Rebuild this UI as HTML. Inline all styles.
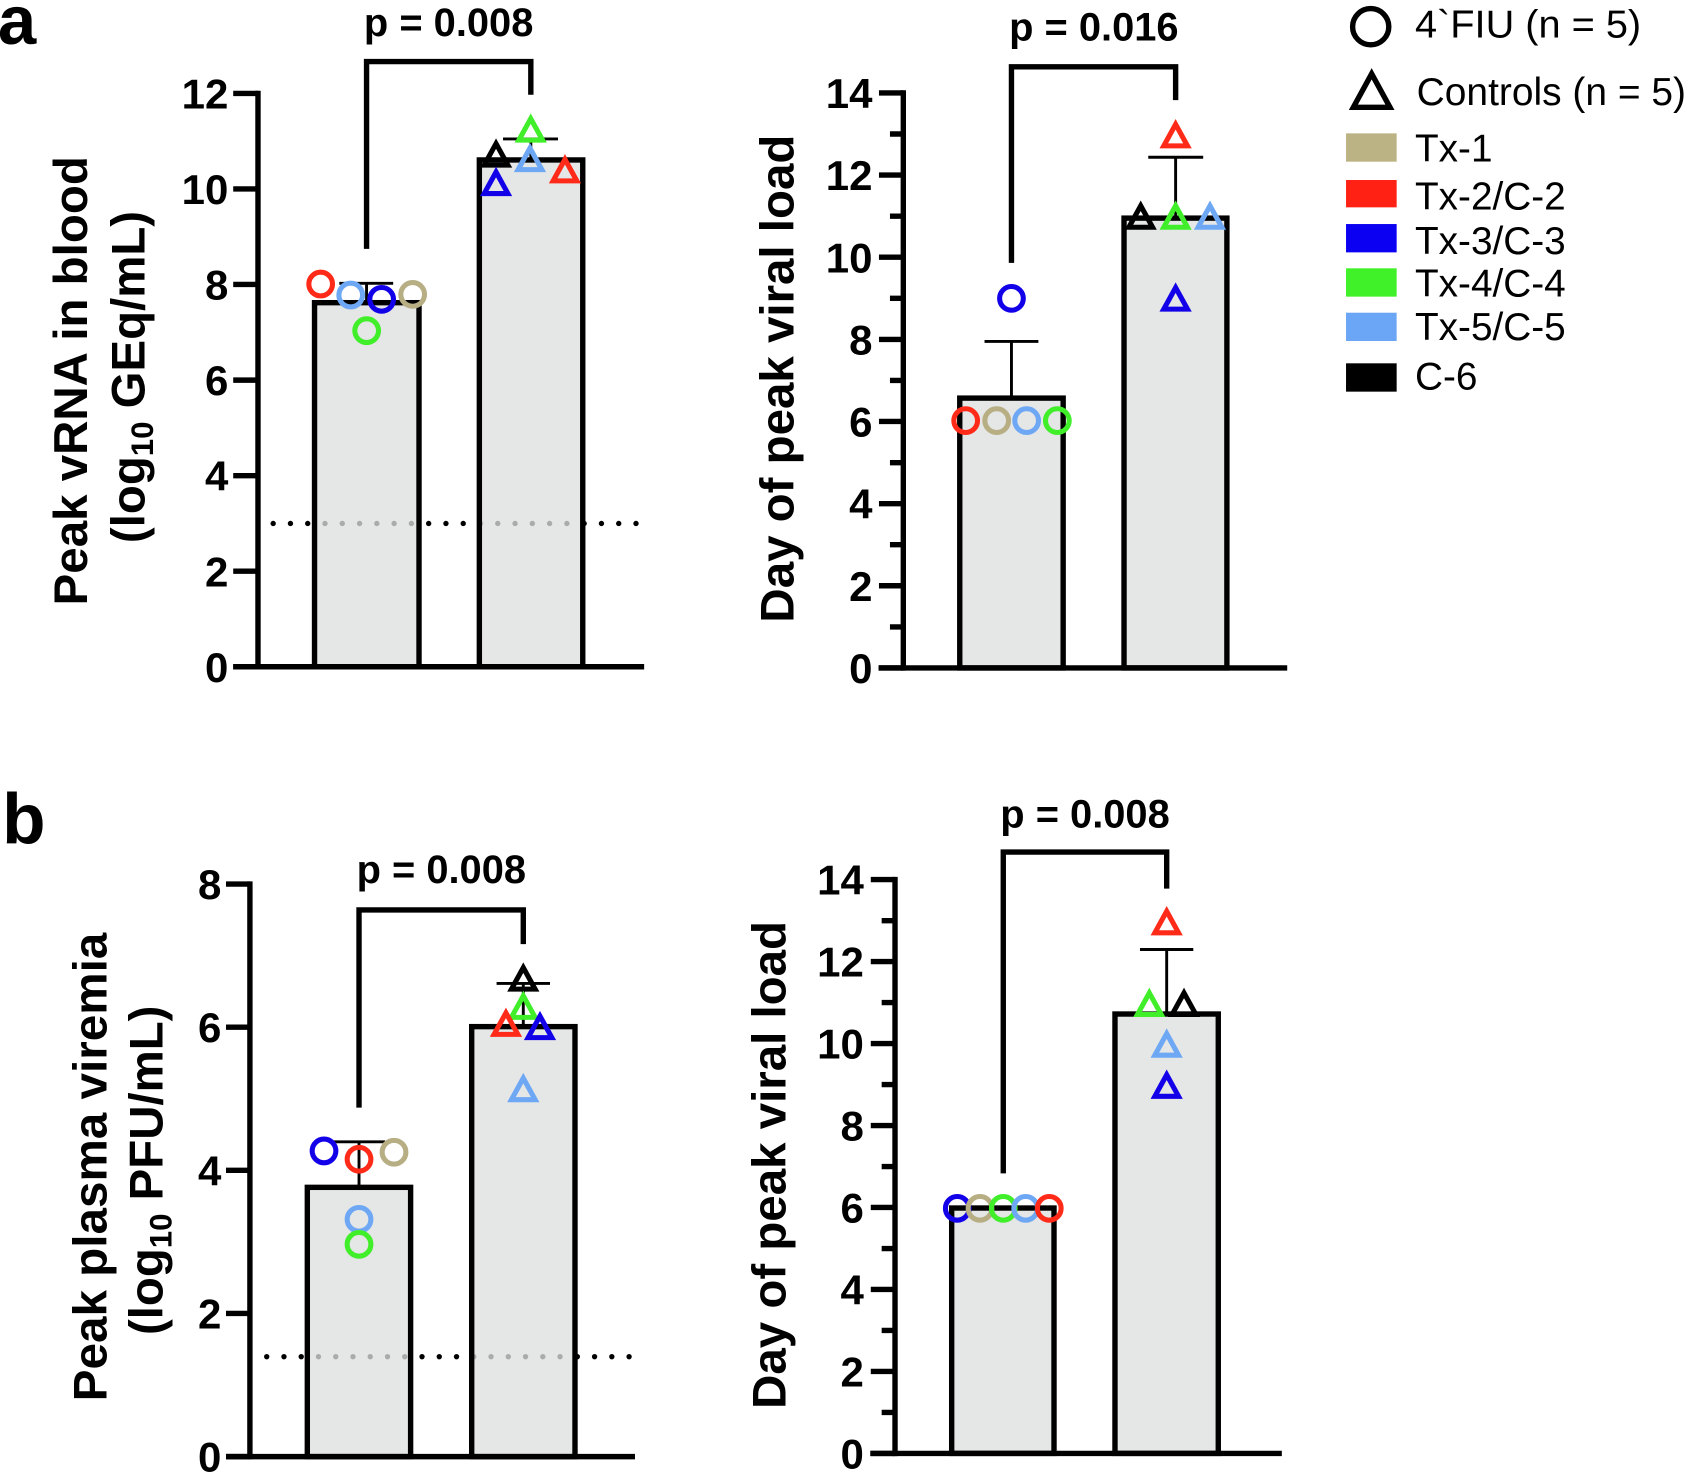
<!DOCTYPE html>
<html>
<head>
<meta charset="utf-8">
<style>
html,body{margin:0;padding:0;background:#fff;}
svg{display:block;}
text{font-family:"Liberation Sans",Arial,sans-serif;}
.b{font-weight:bold;}
</style>
</head>
<body>
<svg width="1689" height="1473" viewBox="0 0 1568 1367.5" preserveAspectRatio="none" xmlns="http://www.w3.org/2000/svg">
<rect x="0" y="0" width="1568" height="1367.5" fill="#fff"/>

<!-- Panel letters -->
<text x="-2" y="41" class="b" font-size="64">a</text>
<text x="2" y="783" class="b" font-size="66">b</text>

<!-- ================= TL panel ================= -->
<g>
  <path d="M253.6 486 H591" stroke="#000" stroke-width="5" stroke-linecap="round" stroke-dasharray="0 16.04" fill="none"/>
  <rect x="292" y="281" width="97" height="338" fill="rgb(221,222,222)" fill-opacity="0.77" stroke="#000" stroke-width="5"/>
  <rect x="445" y="148.5" width="96" height="470.5" fill="rgb(221,222,222)" fill-opacity="0.77" stroke="#000" stroke-width="5"/>
  <g stroke="#000" stroke-width="5" fill="none">
    <path d="M239.5 84.2 V621.5"/>
    <path d="M216.5 619 H598"/>
    <path d="M216.5 619 H239.5 M216.5 530.3 H239.5 M216.5 441.6 H239.5 M216.5 352.9 H239.5 M216.5 264.1 H239.5 M216.5 175.4 H239.5 M216.5 86.7 H239.5"/>
  </g>
  <g class="b" font-size="39" text-anchor="end">
    <text x="212" y="633">0</text>
    <text x="212" y="544.3">2</text>
    <text x="212" y="455.6">4</text>
    <text x="212" y="366.9">6</text>
    <text x="212" y="278.1">8</text>
    <text x="212" y="189.4">10</text>
    <text x="212" y="100.7">12</text>
  </g>
  <g stroke="#000" stroke-width="2.7" fill="none">
    <path d="M340.3 281 V263 M315 263 H365"/>
    <path d="M492.8 148.5 V129 M467 129 H518"/>
  </g>
  <path d="M340.3 231 V57.2 H492.8 V88" stroke="#000" stroke-width="5" fill="none" stroke-linejoin="miter"/>
  <text x="416.5" y="33.5" class="b" font-size="37" text-anchor="middle">p = 0.008</text>
  <text transform="translate(80.8,353.5) rotate(-90)" class="b" font-size="44" text-anchor="middle" textLength="417" lengthAdjust="spacingAndGlyphs">Peak vRNA in blood</text>
  <text transform="translate(134,350) rotate(-90)" class="b" font-size="44" text-anchor="middle">(log<tspan font-size="29" dy="8">10</tspan><tspan dy="-8"> GEq/mL)</tspan></text>
  <g fill="none" stroke-width="4.7">
    <circle cx="297.7" cy="263.7" r="11" stroke="#ff2a18"/>
    <circle cx="325.6" cy="273.9" r="11" stroke="#6ea8f5"/>
    <circle cx="354.3" cy="277.9" r="11" stroke="#1200e8"/>
    <circle cx="383.1" cy="273.3" r="11" stroke="#b7ae84"/>
    <circle cx="340.4" cy="307" r="11" stroke="#40ee2a"/>
  </g>
  <g fill="none" stroke-width="4.7" stroke-linejoin="miter">
    <path d="M460.5 133.3 L471.5 153.3 L449.5 153.3 Z" stroke="#000"/>
    <path d="M460.5 159.7 L471.5 179.7 L449.5 179.7 Z" stroke="#1200e8"/>
    <path d="M492.7 110.1 L503.7 130.1 L481.7 130.1 Z" stroke="#40ee2a"/>
    <path d="M492 137.5 L503 157.5 L481 157.5 Z" stroke="#6ea8f5"/>
    <path d="M524.5 147.9 L535.5 167.9 L513.5 167.9 Z" stroke="#ff2a18"/>
  </g>
</g>

<!-- ================= TR panel ================= -->
<g>
  <rect x="891" y="369.6" width="96" height="250.5" fill="rgb(221,222,222)" fill-opacity="0.77" stroke="#000" stroke-width="5"/>
  <rect x="1043.5" y="202.5" width="95.5" height="417.6" fill="rgb(221,222,222)" fill-opacity="0.77" stroke="#000" stroke-width="5"/>
  <g stroke="#000" stroke-width="5" fill="none">
    <path d="M838.6 83.8 V622.6"/>
    <path d="M815.6 620.1 H1195"/>
    <path d="M816 620.1 H838.6 M816 543.8 H838.6 M816 467.6 H838.6 M816 391.3 H838.6 M816 315.1 H838.6 M816 238.8 H838.6 M816 162.5 H838.6 M816 86.3 H838.6"/>
    <path d="M826.2 582 H838.6 M826.2 505.7 H838.6 M826.2 429.5 H838.6 M826.2 353.2 H838.6 M826.2 276.9 H838.6 M826.2 200.7 H838.6 M826.2 124.4 H838.6"/>
  </g>
  <g class="b" font-size="39" text-anchor="end">
    <text x="810" y="634.1">0</text>
    <text x="810" y="557.8">2</text>
    <text x="810" y="481.6">4</text>
    <text x="810" y="405.3">6</text>
    <text x="810" y="329.1">8</text>
    <text x="810" y="252.8">10</text>
    <text x="810" y="176.5">12</text>
    <text x="810" y="100.3">14</text>
  </g>
  <g stroke="#000" stroke-width="2.7" fill="none">
    <path d="M939 369.6 V317 M914 317 H964"/>
    <path d="M1091.4 202.5 V146 M1066 146 H1117"/>
  </g>
  <path d="M939 244 V62 H1091.4 V93" stroke="#000" stroke-width="5" fill="none"/>
  <text x="1015.5" y="37.8" class="b" font-size="37" text-anchor="middle">p = 0.016</text>
  <text transform="translate(736.5,351.5) rotate(-90)" class="b" font-size="44" text-anchor="middle" textLength="453" lengthAdjust="spacingAndGlyphs">Day of peak viral load</text>
  <g fill="none" stroke-width="4.7">
    <circle cx="939" cy="277" r="11" stroke="#1200e8"/>
    <circle cx="896.5" cy="390.5" r="11" stroke="#ff2a18"/>
    <circle cx="925.3" cy="390.5" r="11" stroke="#b7ae84"/>
    <circle cx="953.1" cy="390.5" r="11" stroke="#6ea8f5"/>
    <circle cx="981.6" cy="390.5" r="11" stroke="#40ee2a"/>
  </g>
  <g fill="none" stroke-width="4.7" stroke-linejoin="miter">
    <path d="M1091.4 115.4 L1102.4 135.4 L1080.4 135.4 Z" stroke="#ff2a18"/>
    <path d="M1059 191 L1070 211 L1048 211 Z" stroke="#000"/>
    <path d="M1091.4 191 L1102.4 211 L1080.4 211 Z" stroke="#40ee2a"/>
    <path d="M1123.3 191 L1134.3 211 L1112.3 211 Z" stroke="#6ea8f5"/>
    <path d="M1091.4 267 L1102.4 287 L1080.4 287 Z" stroke="#1200e8"/>
  </g>
</g>

<!-- ================= BL panel ================= -->
<g>
  <path d="M247.6 1259.5 H585" stroke="#000" stroke-width="5" stroke-linecap="round" stroke-dasharray="0 16.02" fill="none"/>
  <rect x="285.3" y="1102.3" width="95.9" height="250" fill="rgb(221,222,222)" fill-opacity="0.77" stroke="#000" stroke-width="5"/>
  <rect x="437.9" y="953.1" width="95.9" height="399.2" fill="rgb(221,222,222)" fill-opacity="0.77" stroke="#000" stroke-width="5"/>
  <g stroke="#000" stroke-width="5" fill="none">
    <path d="M232 818.2 V1354.8"/>
    <path d="M209.8 1352.3 H589.5"/>
    <path d="M209.8 1352.3 H232 M209.8 1219.4 H232 M209.8 1086.5 H232 M209.8 953.6 H232 M209.8 820.7 H232"/>
  </g>
  <g class="b" font-size="39" text-anchor="end">
    <text x="205.5" y="1366.3">0</text>
    <text x="205.5" y="1233.4">2</text>
    <text x="205.5" y="1100.5">4</text>
    <text x="205.5" y="967.6">6</text>
    <text x="205.5" y="834.7">8</text>
  </g>
  <g stroke="#000" stroke-width="2.7" fill="none">
    <path d="M333.3 1102.3 V1060 M309 1060 H357.5"/>
    <path d="M485.8 953.1 V913 M461 913 H510.6"/>
  </g>
  <path d="M333.3 1028.3 V844.8 H485.8 V876.5" stroke="#000" stroke-width="5" fill="none"/>
  <text x="409.7" y="819.8" class="b" font-size="37" text-anchor="middle">p = 0.008</text>
  <text transform="translate(99,1083.4) rotate(-90)" class="b" font-size="44" text-anchor="middle" textLength="435" lengthAdjust="spacingAndGlyphs">Peak plasma viremia</text>
  <text transform="translate(151,1086.5) rotate(-90)" class="b" font-size="44" text-anchor="middle">(log<tspan font-size="29" dy="8">10</tspan><tspan dy="-8"> PFU/mL)</tspan></text>
  <g fill="none" stroke-width="4.7">
    <circle cx="300.8" cy="1068.5" r="11" stroke="#1200e8"/>
    <circle cx="333.3" cy="1076.2" r="11" stroke="#ff2a18"/>
    <circle cx="365.8" cy="1069.7" r="11" stroke="#b7ae84"/>
    <circle cx="333.3" cy="1132" r="11" stroke="#6ea8f5"/>
    <circle cx="333.3" cy="1155.2" r="11" stroke="#40ee2a"/>
  </g>
  <g fill="none" stroke-width="4.7" stroke-linejoin="miter">
    <path d="M485.8 898.3 L496.8 918.3 L474.8 918.3 Z" stroke="#000"/>
    <path d="M485.8 924.5 L496.8 944.5 L474.8 944.5 Z" stroke="#40ee2a"/>
    <path d="M469.7 940.3 L480.7 960.3 L458.7 960.3 Z" stroke="#ff2a18"/>
    <path d="M501.3 943.3 L512.3 963.3 L490.3 963.3 Z" stroke="#1200e8"/>
    <path d="M485.8 1000.9 L496.8 1020.9 L474.8 1020.9 Z" stroke="#6ea8f5"/>
  </g>
</g>

<!-- ================= BR panel ================= -->
<g>
  <rect x="883.5" y="1121.5" width="95" height="227.8" fill="rgb(221,222,222)" fill-opacity="0.77" stroke="#000" stroke-width="5"/>
  <rect x="1035.1" y="941.4" width="95.9" height="407.9" fill="rgb(221,222,222)" fill-opacity="0.77" stroke="#000" stroke-width="5"/>
  <g stroke="#000" stroke-width="5" fill="none">
    <path d="M830.9 814.1 V1351.8"/>
    <path d="M807.9 1349.3 H1190"/>
    <path d="M808.4 1349.3 H830.9 M808.4 1273.2 H830.9 M808.4 1197.1 H830.9 M808.4 1121 H830.9 M808.4 1044.9 H830.9 M808.4 968.8 H830.9 M808.4 892.7 H830.9 M808.4 816.6 H830.9"/>
    <path d="M818.5 1311.3 H830.9 M818.5 1235.2 H830.9 M818.5 1159.1 H830.9 M818.5 1083 H830.9 M818.5 1006.9 H830.9 M818.5 930.8 H830.9 M818.5 854.7 H830.9"/>
  </g>
  <g class="b" font-size="39" text-anchor="end">
    <text x="802" y="1363.3">0</text>
    <text x="802" y="1287.2">2</text>
    <text x="802" y="1211.1">4</text>
    <text x="802" y="1135">6</text>
    <text x="802" y="1058.9">8</text>
    <text x="802" y="982.8">10</text>
    <text x="802" y="906.7">12</text>
    <text x="802" y="830.6">14</text>
  </g>
  <g stroke="#000" stroke-width="2.7" fill="none">
    <path d="M1083.1 941.4 V881.5 M1058.3 881.5 H1107.8"/>
  </g>
  <path d="M931.4 1089.3 V791 H1083.1 V825" stroke="#000" stroke-width="5" fill="none"/>
  <text x="1007.3" y="768.3" class="b" font-size="37" text-anchor="middle">p = 0.008</text>
  <text transform="translate(729,1081.5) rotate(-90)" class="b" font-size="44" text-anchor="middle" textLength="453" lengthAdjust="spacingAndGlyphs">Day of peak viral load</text>
  <g fill="none" stroke-width="4.7">
    <circle cx="888.7" cy="1121.8" r="11" stroke="#1200e8"/>
    <circle cx="909.8" cy="1121.8" r="11" stroke="#b7ae84"/>
    <circle cx="931.4" cy="1121.8" r="11" stroke="#40ee2a"/>
    <circle cx="952.2" cy="1121.8" r="11" stroke="#6ea8f5"/>
    <circle cx="974.1" cy="1121.8" r="11" stroke="#ff2a18"/>
  </g>
  <g fill="none" stroke-width="4.7" stroke-linejoin="miter">
    <path d="M1083.1 846 L1094.1 866 L1072.1 866 Z" stroke="#ff2a18"/>
    <path d="M1067 921.8 L1078 941.8 L1056 941.8 Z" stroke="#40ee2a"/>
    <path d="M1099.2 921.8 L1110.2 941.8 L1088.2 941.8 Z" stroke="#000"/>
    <path d="M1083.1 959.6 L1094.1 979.6 L1072.1 979.6 Z" stroke="#6ea8f5"/>
    <path d="M1083.1 997.8 L1094.1 1017.8 L1072.1 1017.8 Z" stroke="#1200e8"/>
  </g>
</g>

<!-- ================= Legend ================= -->
<g>
  <circle cx="1272.5" cy="24.8" r="16.8" fill="none" stroke="#000" stroke-width="5"/>
  <text x="1313.6" y="34.7" font-size="36" textLength="210" lengthAdjust="spacingAndGlyphs">4`FIU (n = 5)</text>
  <path d="M1273.4 68.5 L1290.4 99.6 L1256.4 99.6 Z" fill="none" stroke="#000" stroke-width="5" stroke-linejoin="miter"/>
  <text x="1315.2" y="97.5" font-size="36" textLength="250" lengthAdjust="spacingAndGlyphs">Controls (n = 5)</text>

  <rect x="1249.6" y="123.8" width="47" height="26.3" fill="#bcb384"/>
  <text x="1313.6" y="150.1" font-size="36">Tx-1</text>
  <rect x="1249.6" y="167.1" width="47" height="25.4" fill="#ff2214"/>
  <text x="1313.6" y="194.3" font-size="36">Tx-2/C-2</text>
  <rect x="1249.6" y="208" width="47" height="26.3" fill="#0c00f2"/>
  <text x="1313.6" y="235.8" font-size="36">Tx-3/C-3</text>
  <rect x="1249.6" y="249.1" width="47" height="26.3" fill="#40f028"/>
  <text x="1313.6" y="275.4" font-size="36">Tx-4/C-4</text>
  <rect x="1249.6" y="290.3" width="47" height="26.3" fill="#6ba5f5"/>
  <text x="1313.6" y="315.6" font-size="36">Tx-5/C-5</text>
  <rect x="1249.6" y="337.3" width="47" height="26.3" fill="#000"/>
  <text x="1313.6" y="361.4" font-size="36">C-6</text>
</g>
</svg>
</body>
</html>
